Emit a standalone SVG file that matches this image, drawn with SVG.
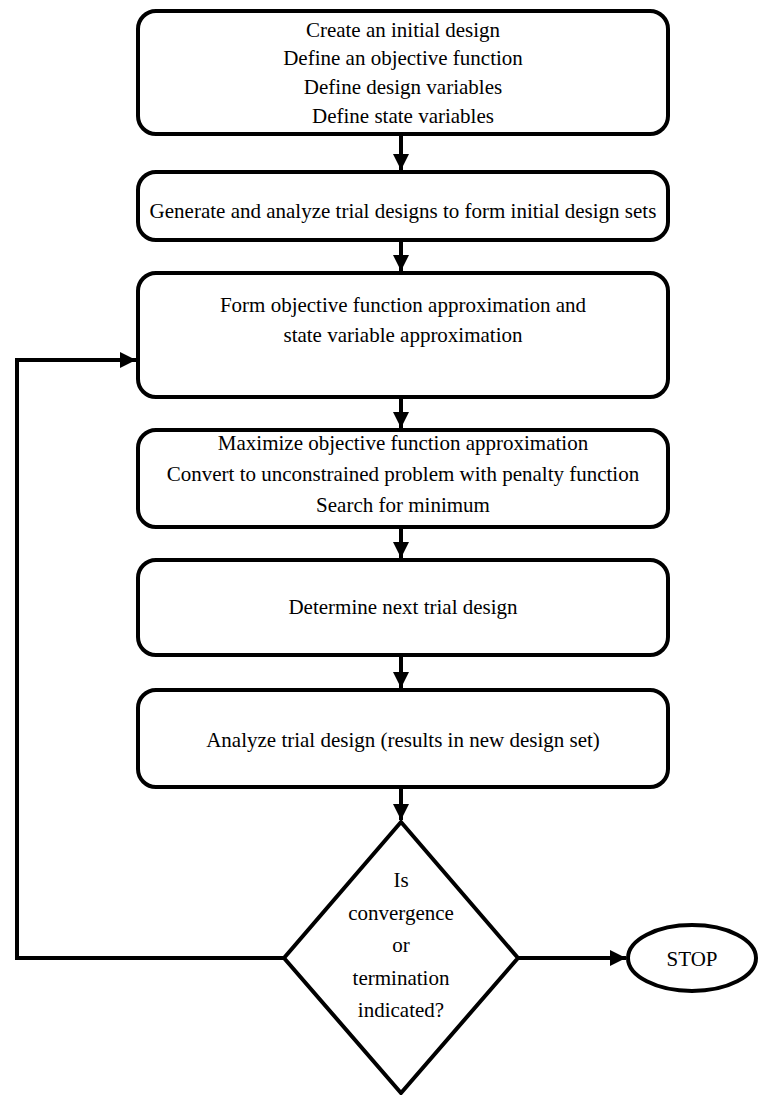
<svg xmlns="http://www.w3.org/2000/svg" width="759" height="1095" viewBox="0 0 759 1095">
  <style>
    .box { fill: #fff; stroke: #000; stroke-width: 4; }
    .lbl { font-family: "Liberation Serif", "Times New Roman", serif; font-size: 21px; fill: #000; text-anchor: middle; }
    .conn { fill: none; stroke: #000; stroke-width: 4; }
  </style>
  <defs>
    <marker id="arrow" viewBox="0 0 10 10" refX="10" refY="5" markerWidth="4" markerHeight="4" markerUnits="strokeWidth" orient="auto">
      <path d="M0,0 L10,5 L0,10 z" fill="#000"/>
    </marker>
  </defs>

  <!-- process steps -->
  <g id="n1">
    <rect class="box" x="138" y="11" width="530" height="123" rx="18"/>
    <text class="lbl" x="403" y="37">Create an initial design</text>
    <text class="lbl" x="403" y="65">Define an objective function</text>
    <text class="lbl" x="403" y="94">Define design variables</text>
    <text class="lbl" x="403" y="123">Define state variables</text>
  </g>
  <g id="n2">
    <rect class="box" x="138" y="172" width="530" height="68" rx="18"/>
    <text class="lbl" x="403" y="218">Generate and analyze trial designs to form initial design sets</text>
  </g>
  <g id="n3">
    <rect class="box" x="138" y="273" width="530" height="124" rx="18"/>
    <text class="lbl" x="403" y="312">Form objective function approximation and</text>
    <text class="lbl" x="403" y="342">state variable approximation</text>
  </g>
  <g id="n4">
    <rect class="box" x="138" y="430" width="530" height="97" rx="18"/>
    <text class="lbl" x="403" y="450">Maximize objective function approximation</text>
    <text class="lbl" x="403" y="481">Convert to unconstrained problem with penalty function</text>
    <text class="lbl" x="403" y="512">Search for minimum</text>
  </g>
  <g id="n5">
    <rect class="box" x="138" y="560" width="530" height="95" rx="18"/>
    <text class="lbl" x="403" y="614">Determine next trial design</text>
  </g>
  <g id="n6">
    <rect class="box" x="138" y="690" width="530" height="97" rx="18"/>
    <text class="lbl" x="403" y="747">Analyze trial design (results in new design set)</text>
  </g>

  <!-- decision -->
  <g id="n7">
    <polygon class="box" points="401,822 518,958 401,1093 284,958"/>
    <text class="lbl" x="401" y="887">Is</text>
    <text class="lbl" x="401" y="920">convergence</text>
    <text class="lbl" x="401" y="952">or</text>
    <text class="lbl" x="401" y="985">termination</text>
    <text class="lbl" x="401" y="1017">indicated?</text>
  </g>

  <!-- terminator -->
  <g id="n8">
    <ellipse class="box" cx="692" cy="958" rx="64" ry="33"/>
    <text class="lbl" x="692" y="966">STOP</text>
  </g>

  <!-- connectors -->
  <g id="connectors">
    <line class="conn" x1="401" y1="134" x2="401" y2="170" marker-end="url(#arrow)"/>
    <line class="conn" x1="401" y1="240" x2="401" y2="271" marker-end="url(#arrow)"/>
    <line class="conn" x1="401" y1="397" x2="401" y2="428" marker-end="url(#arrow)"/>
    <line class="conn" x1="401" y1="527" x2="401" y2="558" marker-end="url(#arrow)"/>
    <line class="conn" x1="401" y1="655" x2="401" y2="688" marker-end="url(#arrow)"/>
    <line class="conn" x1="401" y1="787" x2="401" y2="820" marker-end="url(#arrow)"/>
    <polyline class="conn" points="284,958 17,958 17,360 136,360" marker-end="url(#arrow)"/>
    <line class="conn" x1="518" y1="958" x2="626" y2="958" marker-end="url(#arrow)"/>
  </g>
</svg>
